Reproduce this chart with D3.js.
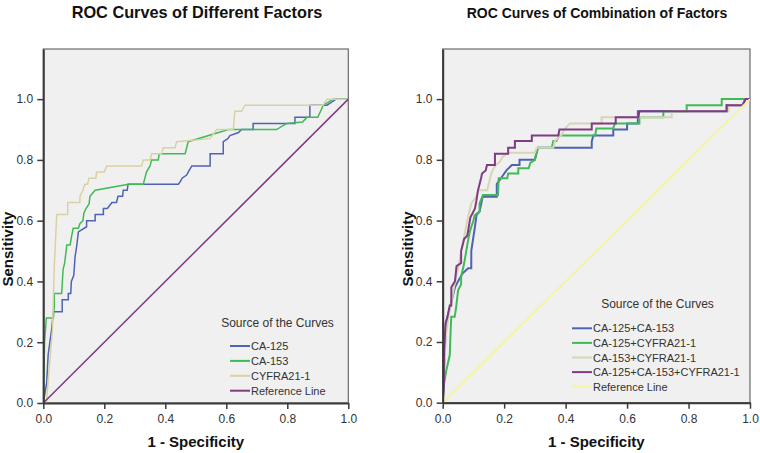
<!DOCTYPE html>
<html><head><meta charset="utf-8">
<script src="https://cdn.jsdelivr.net/npm/d3@7"></script>
<style>
body{margin:0;background:#fff}
svg{display:block}
text{font-family:Arial,"Liberation Sans",sans-serif}
</style>
</head><body>
<svg id="chart" width="760" height="453"></svg>
<script>
// ---------- data ----------
const tickValues = [0, 0.2, 0.4, 0.6, 0.8, 1.0];
const leftTitle = "ROC Curves of Different Factors";
const rightTitle = "ROC Curves of Combination of Factors";
const xLabel = "1 - Specificity";
const yLabel = "Sensitivity";
const legendTitle = "Source of the Curves";
const leftNames = ["CA-125", "CA-153", "CYFRA21-1", "Reference Line"];
const rightNames = ["CA-125+CA-153", "CA-125+CYFRA21-1", "CA-153+CYFRA21-1", "CA-125+CA-153+CYFRA21-1", "Reference Line"];

// left panel curves: [1 - specificity, sensitivity]
const ca125 = [[0,0],[0.011,0.065],[0.016,0.16],[0.027,0.24],[0.033,0.30],[0.062,0.30],[0.062,0.34],[0.082,0.34],[0.082,0.36],[0.09,0.36],[0.092,0.40],[0.1,0.42],[0.104,0.48],[0.11,0.52],[0.115,0.563],[0.142,0.58],[0.142,0.60],[0.17,0.60],[0.17,0.62],[0.197,0.62],[0.197,0.64],[0.21,0.64],[0.225,0.66],[0.24,0.66],[0.245,0.68],[0.26,0.68],[0.262,0.70],[0.275,0.70],[0.278,0.72],[0.443,0.72],[0.45,0.73],[0.455,0.74],[0.47,0.75],[0.475,0.76],[0.487,0.78],[0.547,0.78],[0.547,0.82],[0.59,0.82],[0.59,0.86],[0.605,0.87],[0.612,0.88],[0.64,0.89],[0.65,0.90],[0.688,0.90],[0.688,0.92],[0.825,0.92],[0.825,0.94],[0.874,0.94],[0.874,0.98],[0.93,0.98],[0.96,1.0],[1,1]];
const ca153 = [[0,0],[0.004,0.2],[0.01,0.28],[0.033,0.28],[0.036,0.32],[0.036,0.36],[0.06,0.36],[0.065,0.44],[0.07,0.46],[0.077,0.52],[0.088,0.52],[0.093,0.55],[0.098,0.575],[0.115,0.575],[0.12,0.59],[0.13,0.60],[0.133,0.625],[0.14,0.64],[0.15,0.655],[0.153,0.68],[0.17,0.70],[0.28,0.72],[0.328,0.72],[0.333,0.74],[0.338,0.76],[0.35,0.78],[0.355,0.80],[0.377,0.80],[0.38,0.82],[0.465,0.82],[0.47,0.84],[0.475,0.86],[0.607,0.90],[0.765,0.90],[0.798,0.92],[0.85,0.925],[0.864,0.94],[0.90,0.94],[0.918,0.98],[0.95,1.0],[1,1]];
const cyfra = [[0,0],[0.01,0],[0.02,0.12],[0.03,0.24],[0.036,0.45],[0.044,0.62],[0.08,0.62],[0.08,0.66],[0.12,0.66],[0.12,0.68],[0.13,0.70],[0.136,0.72],[0.145,0.72],[0.15,0.74],[0.172,0.74],[0.175,0.76],[0.2,0.76],[0.208,0.78],[0.322,0.78],[0.328,0.80],[0.35,0.80],[0.355,0.82],[0.388,0.82],[0.393,0.84],[0.432,0.84],[0.437,0.86],[0.546,0.87],[0.569,0.90],[0.623,0.90],[0.628,0.96],[0.65,0.96],[0.661,0.98],[0.917,0.98],[0.93,1.0],[1,1]];
const refLine = [[0,0],[1,1]];

// right panel curves
const combo125_153 = [[0,0],[0.004,0.1],[0.008,0.2],[0.012,0.27],[0.02,0.30],[0.03,0.34],[0.04,0.38],[0.05,0.40],[0.065,0.426],[0.083,0.443],[0.093,0.443],[0.093,0.50],[0.099,0.54],[0.105,0.58],[0.11,0.618],[0.12,0.63],[0.13,0.678],[0.176,0.678],[0.176,0.72],[0.19,0.74],[0.208,0.766],[0.225,0.783],[0.25,0.783],[0.25,0.80],[0.3,0.80],[0.305,0.82],[0.31,0.84],[0.485,0.84],[0.485,0.86],[0.49,0.88],[0.555,0.88],[0.555,0.90],[0.60,0.90],[0.60,0.92],[0.635,0.92],[0.635,0.96],[0.924,0.96],[0.924,0.98],[0.975,0.98],[0.985,1.0],[1,1]];
const combo125_cyfra = [[0,0],[0.004,0.06],[0.012,0.108],[0.023,0.157],[0.026,0.24],[0.028,0.283],[0.039,0.283],[0.044,0.316],[0.05,0.37],[0.06,0.39],[0.06,0.415],[0.07,0.46],[0.08,0.52],[0.088,0.563],[0.1,0.60],[0.104,0.618],[0.12,0.63],[0.12,0.656],[0.131,0.684],[0.18,0.684],[0.182,0.739],[0.21,0.739],[0.213,0.755],[0.246,0.755],[0.246,0.772],[0.28,0.772],[0.285,0.79],[0.30,0.80],[0.304,0.82],[0.31,0.84],[0.355,0.84],[0.36,0.862],[0.37,0.862],[0.38,0.88],[0.496,0.88],[0.5,0.903],[0.555,0.903],[0.56,0.92],[0.64,0.92],[0.64,0.94],[0.718,0.94],[0.718,0.96],[0.794,0.96],[0.794,0.98],[0.908,0.98],[0.908,1.0],[1,1]];
const combo153_cyfra = [[0,0],[0.004,0.1],[0.01,0.22],[0.02,0.29],[0.03,0.34],[0.04,0.40],[0.05,0.44],[0.06,0.50],[0.072,0.558],[0.08,0.60],[0.093,0.656],[0.11,0.68],[0.115,0.70],[0.145,0.70],[0.154,0.739],[0.16,0.76],[0.17,0.78],[0.186,0.794],[0.195,0.81],[0.213,0.823],[0.30,0.823],[0.306,0.84],[0.36,0.84],[0.365,0.862],[0.385,0.88],[0.398,0.903],[0.414,0.92],[0.517,0.92],[0.517,0.94],[0.745,0.94],[0.745,0.96],[0.93,0.96],[0.93,0.98],[0.98,0.98],[0.985,1.0],[1,1]];
const comboAll = [[0,0],[0.004,0.06],[0.004,0.15],[0.009,0.26],[0.015,0.28],[0.023,0.32],[0.028,0.32],[0.028,0.38],[0.04,0.40],[0.045,0.45],[0.06,0.46],[0.06,0.50],[0.07,0.54],[0.08,0.55],[0.09,0.61],[0.105,0.64],[0.11,0.667],[0.115,0.70],[0.125,0.74],[0.128,0.755],[0.14,0.765],[0.144,0.783],[0.17,0.783],[0.17,0.82],[0.213,0.82],[0.213,0.84],[0.235,0.84],[0.235,0.862],[0.29,0.862],[0.29,0.88],[0.376,0.88],[0.38,0.90],[0.485,0.90],[0.485,0.92],[0.563,0.92],[0.563,0.94],[0.637,0.94],[0.64,0.96],[0.924,0.96],[0.924,0.98],[0.978,0.98],[0.985,1.0],[1,1]];

const leftColors = ["#4E63B2", "#40B957", "#DAD1A2", "#7E3C82"];
const rightColors = ["#4E63B2", "#40B957", "#D7D4B8", "#7E3C82", "#F6F49E"];

// ---------- drawing ----------
const svg = d3.select("#chart");

function panel(cfg) {
  const x = d3.scaleLinear().domain([0, 1]).range([cfg.x0, cfg.x1]);
  const y = d3.scaleLinear().domain([0, 1.165]).range([cfg.yb, cfg.yt]);
  const g = svg.append("g");
  const id = "clip" + cfg.key;
  svg.append("clipPath").attr("id", id).append("rect")
    .attr("x", cfg.x0).attr("y", cfg.yt).attr("width", cfg.x1 - cfg.x0).attr("height", cfg.yb - cfg.yt);

  g.append("rect").attr("x", cfg.x0).attr("y", cfg.yt)
    .attr("width", cfg.x1 - cfg.x0).attr("height", cfg.yb - cfg.yt)
    .attr("fill", "#f0f0f0").attr("stroke", "#6a6a6a").attr("stroke-width", 1.2);

  const line = d3.line().x(d => x(d[0])).y(d => y(d[1]));
  const lines = g.append("g").attr("clip-path", `url(#${id})`);
  cfg.series.forEach((s, i) => {
    lines.append("path").datum(s).attr("d", line)
      .attr("fill", "none").attr("stroke", cfg.colors[i])
      .attr("stroke-width", cfg.lw[i]).attr("stroke-linejoin", "miter");
  });

  const xa = g.append("g").attr("transform", `translate(0,${cfg.yb})`)
    .call(d3.axisBottom(x).tickValues(tickValues).tickFormat(d3.format(".1f")).tickSize(6).tickSizeOuter(0));
  const ya = g.append("g").attr("transform", `translate(${cfg.x0},0)`)
    .call(d3.axisLeft(y).tickValues(tickValues).tickFormat(d3.format(".1f")).tickSize(6).tickSizeOuter(0));
  [xa, ya].forEach(a => {
    a.select(".domain").attr("stroke", "#3a3a3a").attr("stroke-width", 2);
    a.selectAll(".tick line").attr("stroke", "#3a3a3a").attr("stroke-width", 1.5);
    a.selectAll(".tick text").attr("fill", "#333").style("font-size", "12px")
      .style("font-family", "Arial, 'Liberation Sans', sans-serif");
  });
  xa.selectAll(".tick text").attr("dy", "0.95em");
  ya.selectAll(".tick text").attr("dx", "-0.1em");

  g.append("text").attr("x", cfg.titleX).attr("y", 17.5)
    .attr("text-anchor", "middle").attr("font-weight", "bold").attr("font-size", cfg.titleSize)
    .attr("fill", "#111").text(cfg.title);
  g.append("text").attr("x", (cfg.x0 + cfg.x1) / 2).attr("y", 447)
    .attr("text-anchor", "middle").attr("font-weight", "bold").attr("font-size", "15px")
    .attr("fill", "#111").text(xLabel);
  g.append("text").attr("transform", `translate(${cfg.x0 - 30},${(y(0) + y(1)) / 2 - 2}) rotate(-90)`)
    .attr("text-anchor", "middle").attr("font-weight", "bold").attr("font-size", "15px")
    .attr("fill", "#111").text(yLabel);

  const lg = g.append("g");
  lg.append("text").attr("x", cfg.legTitleX).attr("y", cfg.legTitleY + 4)
    .attr("text-anchor", "middle").attr("font-size", "12px").attr("fill", "#333").text(legendTitle);
  cfg.names.forEach((n, i) => {
    const yy = cfg.legY0 + i * cfg.legDy;
    lg.append("line").attr("x1", cfg.legX).attr("x2", cfg.legX + 20).attr("y1", yy).attr("y2", yy)
      .attr("stroke", cfg.colors[i]).attr("stroke-width", 2);
    lg.append("text").attr("x", cfg.legX + 21).attr("y", yy + 4)
      .attr("font-size", "11px").attr("fill", "#333").text(n);
  });
}

panel({
  key: "L", x0: 43.3, x1: 348.3, yb: 403, yt: 49,
  series: [ca125, ca153, cyfra, refLine], colors: leftColors, lw: [1.5, 1.5, 1.5, 1.5],
  names: leftNames, title: leftTitle, titleX: 197, titleSize: "16.3px",
  legTitleX: 277.5, legTitleY: 323, legX: 230, legY0: 346, legDy: 14.9
});
panel({
  key: "R", x0: 442.7, x1: 750, yb: 402.7, yt: 49,
  series: [combo125_153, combo125_cyfra, combo153_cyfra, comboAll, refLine], colors: rightColors, lw: [2, 2, 2, 2, 2],
  names: rightNames, title: rightTitle, titleX: 597, titleSize: "14px",
  legTitleX: 657.5, legTitleY: 304, legX: 572, legY0: 328.3, legDy: 14.6
});
</script>
</body></html>
